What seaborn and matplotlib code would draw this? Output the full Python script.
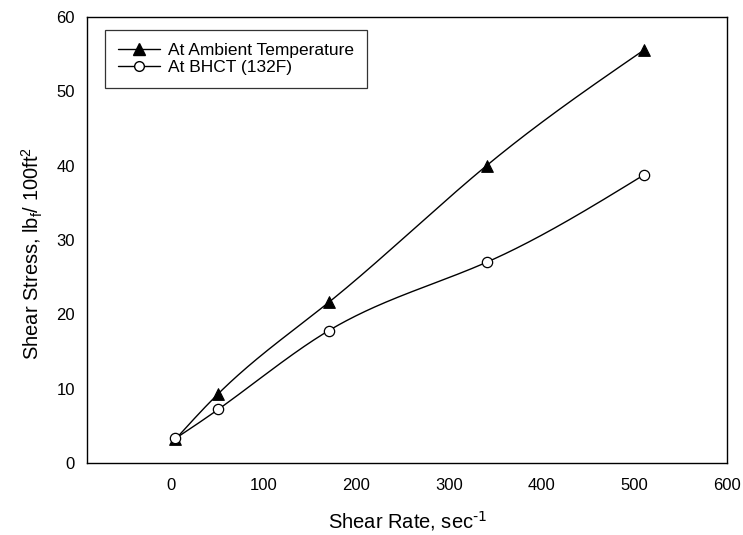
import numpy as np
import pandas as pd
import matplotlib
matplotlib.use("Agg")
import matplotlib.pyplot as plt
import seaborn as sns
from matplotlib.lines import Line2D

shear_rate = [5.1, 51.1, 170.3, 340.6, 510.9]
ambient = [3.2, 9.3, 21.6, 40.0, 55.6]
bhct = [3.3, 7.2, 17.8, 27.0, 38.8]
series_names = ["At Ambient Temperature", "At BHCT (132F)"]
x_ticks = [0, 100, 200, 300, 400, 500, 600]
y_ticks = [0, 10, 20, 30, 40, 50, 60]

sns.set_style("white")
plt.rcParams['font.family'] = ['Liberation Sans', 'DejaVu Sans']
plt.rcParams['mathtext.default'] = 'regular'
plt.rcParams['text.color'] = 'black'
plt.rcParams['axes.labelcolor'] = 'black'
plt.rcParams['xtick.color'] = 'black'
plt.rcParams['ytick.color'] = 'black'


def natural_spline(x, y, xs):
    x = np.asarray(x, float)
    y = np.asarray(y, float)
    n = len(x)
    h = np.diff(x)
    A = np.zeros((n, n))
    b = np.zeros(n)
    A[0, 0] = 1
    A[-1, -1] = 1
    for i in range(1, n - 1):
        A[i, i - 1] = h[i - 1]
        A[i, i] = 2 * (h[i - 1] + h[i])
        A[i, i + 1] = h[i]
        b[i] = 6 * ((y[i + 1] - y[i]) / h[i] - (y[i] - y[i - 1]) / h[i - 1])
    M = np.linalg.solve(A, b)
    idx = np.clip(np.searchsorted(x, xs) - 1, 0, n - 2)
    x0, x1 = x[idx], x[idx + 1]
    hh = x1 - x0
    t0 = x1 - xs
    t1 = xs - x0
    return (M[idx] * t0 ** 3 / (6 * hh) + M[idx + 1] * t1 ** 3 / (6 * hh)
            + (y[idx] / hh - M[idx] * hh / 6) * t0
            + (y[idx + 1] / hh - M[idx + 1] * hh / 6) * t1)


fig = plt.figure(figsize=(7.43, 5.35), dpi=100)
ax = fig.add_axes([0.1175, 0.1346, 0.861, 0.8336])

xs = np.linspace(shear_rate[0], shear_rate[-1], 300)
curves = pd.DataFrame({
    "x": np.concatenate([xs, xs]),
    "y": np.concatenate([natural_spline(shear_rate, ambient, xs),
                         natural_spline(shear_rate, bhct, xs)]),
    "s": [series_names[0]] * len(xs) + [series_names[1]] * len(xs),
})
sns.lineplot(data=curves, x="x", y="y", hue="s", palette=["black", "black"],
             sort=False, estimator=None, linewidth=1.0, legend=False, ax=ax)

pts_a = pd.DataFrame({"x": shear_rate, "y": ambient})
pts_b = pd.DataFrame({"x": shear_rate, "y": bhct})
sns.scatterplot(data=pts_a, x="x", y="y", marker="^", s=70, color="black",
                edgecolor="black", linewidth=0.8, zorder=5, ax=ax)
sns.scatterplot(data=pts_b, x="x", y="y", marker="o", s=55, color="white",
                edgecolor="black", linewidth=0.9, zorder=6, ax=ax)

ax.set_xlim(-90, 600)
ax.set_ylim(0, 60)
ax.set_xticks(x_ticks)
ax.set_yticks(y_ticks)
ax.tick_params(axis="x", direction="in", length=5, width=0.8, labelsize=12, pad=10.5)
ax.tick_params(axis="y", direction="out", length=5, width=0.8, labelsize=12, pad=4)
ax.tick_params(top=False, right=False)
for sp in ax.spines.values():
    sp.set_color("black")
    sp.set_linewidth(1.0)

ax.set_xlabel(r"Shear Rate, sec$^{\text{-1}}$", fontsize=14.5, labelpad=12)
ax.set_ylabel("Shear Stress, lb$_f$/ 100ft$^2$", fontsize=14.5)
ax.yaxis.set_label_coords(-0.066, 0.47)

handles = [
    Line2D([], [], color="black", lw=1.0, marker="^", markersize=8,
           markerfacecolor="black", markeredgecolor="black"),
    Line2D([], [], color="black", lw=1.0, marker="o", markersize=7,
           markerfacecolor="white", markeredgecolor="black"),
]
leg = ax.legend(handles, series_names, loc="upper left", fontsize=12.5,
                frameon=True, fancybox=False, edgecolor="black",
                bbox_to_anchor=(0.0277, 0.971), borderaxespad=0,
                handlelength=2.4, handletextpad=0.5, borderpad=0.75,
                labelspacing=0.1)
leg.get_frame().set_linewidth(0.9)

fig.savefig("out.png", dpi=100)
